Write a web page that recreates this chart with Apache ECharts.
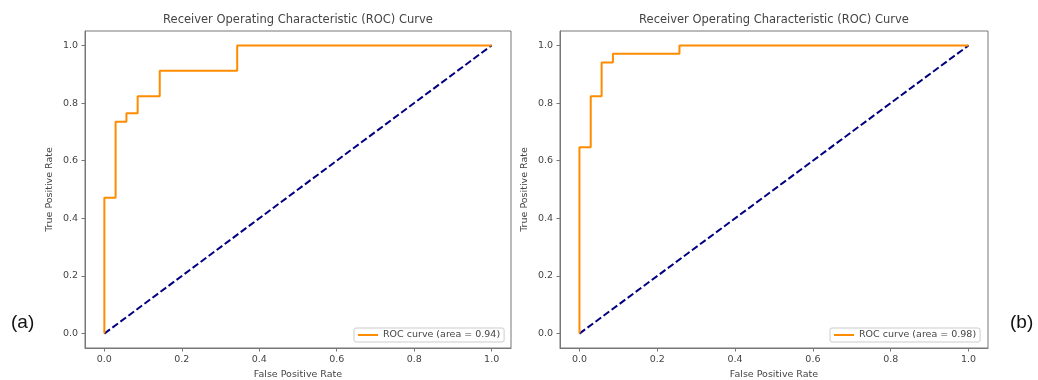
<!DOCTYPE html>
<html>
<head>
<meta charset="utf-8">
<script src="https://cdn.jsdelivr.net/npm/echarts@6/dist/echarts.min.js"></script>
<style>
  html, body { margin: 0; padding: 0; background: #fff; }
  #chart { width: 1038px; height: 380px; }
</style>
</head>
<body>
<div id="chart"></div>
<script>
// ---------------- data ----------------
const tickValues = [0, 0.2, 0.4, 0.6, 0.8, 1.0];

// (a) roc corner points
const fprA = [0, 0, 0.029, 0.029, 0.057, 0.057, 0.086, 0.086, 0.143, 0.143, 0.343, 0.343, 1.0];
const tprA = [0, 0.471, 0.471, 0.735, 0.735, 0.765, 0.765, 0.824, 0.824, 0.912, 0.912, 1.0, 1.0];

// (b) roc corner points
const fprB = [0, 0, 0.029, 0.029, 0.057, 0.057, 0.086, 0.086, 0.257, 0.257, 1.0];
const tprB = [0, 0.647, 0.647, 0.824, 0.824, 0.941, 0.941, 0.971, 0.971, 1.0, 1.0];

const chanceLine = [[0, 0], [1, 1]];
const labelA = 'ROC curve (area = 0.94)';
const labelB = 'ROC curve (area = 0.98)';

const font = 'DejaVu Sans';
const zip = (xs, ys) => xs.map((x, i) => [x, ys[i]]);

function makeX(idx) {
  return {
    type: 'value', gridIndex: idx, min: -0.05, max: 1.05,
    name: 'False Positive Rate', nameLocation: 'middle', nameGap: 22,
    nameTextStyle: { fontFamily: font, fontSize: 9.5, color: '#444' },
    axisLine: { show: true, onZero: false, lineStyle: { color: '#777' } },
    axisTick: { show: true, length: 3.5, customValues: tickValues, lineStyle: { color: '#777' } },
    axisLabel: {
      customValues: tickValues, fontFamily: font, fontSize: 9.5, color: '#444', margin: 7,
      formatter: v => v.toFixed(1)
    },
    splitLine: { show: false }
  };
}

function makeY(idx) {
  return {
    type: 'value', gridIndex: idx, min: -0.05, max: 1.05,
    name: 'True Positive Rate', nameLocation: 'middle', nameGap: 30,
    nameTextStyle: { fontFamily: font, fontSize: 9.5, color: '#444' },
    axisLine: { show: true, onZero: false, lineStyle: { color: '#777' } },
    axisTick: { show: true, length: 3.5, customValues: tickValues, lineStyle: { color: '#777' } },
    axisLabel: {
      customValues: tickValues, fontFamily: font, fontSize: 9.5, color: '#444', margin: 7,
      formatter: v => v.toFixed(1)
    },
    splitLine: { show: false }
  };
}

function rocSeries(name, idx, xs, ys) {
  return {
    name: name, type: 'line', xAxisIndex: idx, yAxisIndex: idx,
    data: zip(xs, ys), showSymbol: false, symbol: 'none', animation: false,
    lineStyle: { color: '#ff8c00', width: 2 }, itemStyle: { color: '#ff8c00' }, z: 3
  };
}

function diagSeries(idx) {
  return {
    type: 'line', xAxisIndex: idx, yAxisIndex: idx, data: chanceLine,
    showSymbol: false, symbol: 'none', animation: false, silent: true,
    lineStyle: { color: '#000080', width: 2, type: [7, 3] }, z: 2
  };
}

function makeLegend(name, left) {
  return {
    data: [name], left: left, top: 328, orient: 'horizontal',
    icon: 'rect', itemWidth: 20, itemHeight: 2, itemGap: 6,
    padding: [2, 4, 2, 4], borderColor: '#ccc', borderWidth: 1, borderRadius: 2,
    backgroundColor: '#fff',
    textStyle: { fontFamily: font, fontSize: 9.5, color: '#444' },
    selectedMode: false
  };
}

const chart = echarts.init(document.getElementById('chart'), null, { renderer: 'canvas' });

const option = {
  backgroundColor: '#fff',
  animation: false,
  title: [
    { text: 'Receiver Operating Characteristic (ROC) Curve', left: 298, top: 14, textAlign: 'center',
      padding: 0, textStyle: { fontFamily: font, fontSize: 11.5, fontWeight: 'normal', color: '#444' } },
    { text: 'Receiver Operating Characteristic (ROC) Curve', left: 774, top: 14, textAlign: 'center',
      padding: 0, textStyle: { fontFamily: font, fontSize: 11.5, fontWeight: 'normal', color: '#444' } }
  ],
  grid: [
    { left: 85, top: 31, width: 426, height: 317, outerBoundsMode: 'none', containLabel: false,
      show: true, borderColor: '#777', borderWidth: 1, backgroundColor: 'transparent' },
    { left: 560, top: 31, width: 428, height: 317, outerBoundsMode: 'none', containLabel: false,
      show: true, borderColor: '#777', borderWidth: 1, backgroundColor: 'transparent' }
  ],
  xAxis: [makeX(0), makeX(1)],
  yAxis: [makeY(0), makeY(1)],
  legend: [makeLegend(labelA, 354), makeLegend(labelB, 830)],
  series: [
    diagSeries(0),
    rocSeries(labelA, 0, fprA, tprA),
    diagSeries(1),
    rocSeries(labelB, 1, fprB, tprB)
  ],
  graphic: [
    { type: 'text', left: 11, top: 313, style: { text: '(a)', font: '19px "Liberation Sans"', fill: '#111' } },
    { type: 'text', left: 1010, top: 313, style: { text: '(b)', font: '19px "Liberation Sans"', fill: '#111' } }
  ]
};

chart.setOption(option);
</script>
</body>
</html>
